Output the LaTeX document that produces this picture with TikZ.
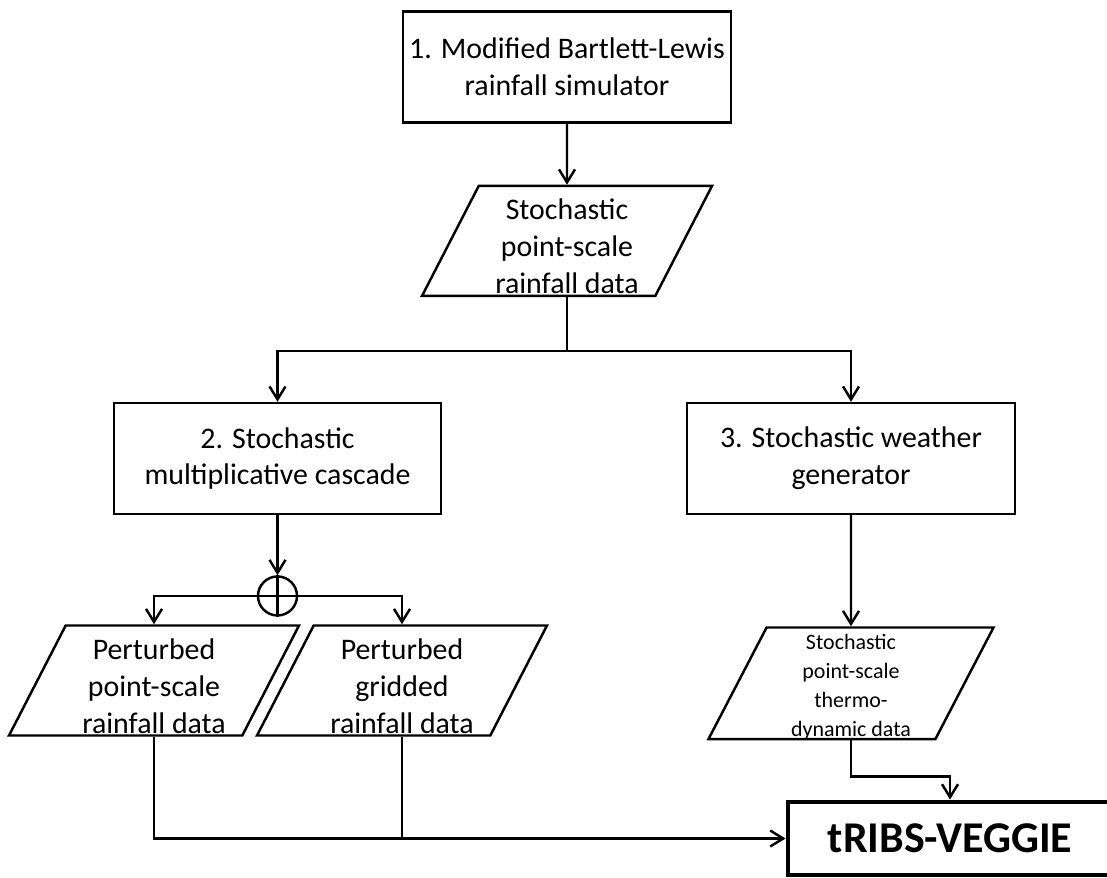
\documentclass[tikz,border=0pt]{standalone}
\usepackage{fontspec}
\setmainfont{Carlito}
\usetikzlibrary{positioning,arrows.meta,shapes.geometric}

\begin{document}
\begin{tikzpicture}[
  blk/.style={draw, line width=1.4pt, align=center, font=\fontsize{17}{21}\selectfont,
              minimum width=6.55cm, minimum height=2.22cm, inner sep=2pt},
  dat/.style={draw, line width=1.4pt, trapezium, trapezium left angle=62.5,
              trapezium right angle=117.5, trapezium stretches body, align=center,
              font=\fontsize{17}{21}\selectfont, minimum width=5.8cm,
              minimum height=2.2cm, inner sep=1pt, text height=60pt, text depth=0pt},
  arr/.style={-{Straight Barb[length=2.6mm, width=3.2mm]}, line width=1.4pt},
  ln/.style={line width=1.4pt}
]
\useasboundingbox (0,0) rectangle (22.14,-17.56);
\node[blk] (sim) at (11.34,-1.34) {1. Modified Bartlett-Lewis\\rainfall simulator};
\node[dat, below=1.22cm of sim] (rain) {Stochastic\\point-scale\\rainfall data};
\coordinate[below=1.08cm of rain.south] (split);
\node[blk] (casc) at (5.55,-9.17) {2. Stochastic\\multiplicative cascade};
\node[blk] (wg) at (17.02,-9.17) {3. Stochastic weather\\generator};
\node[draw, ln, circle, minimum size=0.78cm, inner sep=0pt, below=1.2cm of casc] (plus) {};
\node[dat] (ptrain) at (3.08,-13.61) {Perturbed\\point-scale\\rainfall data};
\node[dat] (grid) at (8.04,-13.61) {Perturbed\\gridded\\rainfall data};
\node[dat, font=\fontsize{12.5}{16.5}\selectfont, minimum width=5.7cm, minimum height=2.18cm,
      text height=61pt, text depth=0.5pt, below=2.22cm of wg] (thermo)
      {Stochastic\\point-scale\\thermo-\\dynamic data};
\node[draw, line width=2.8pt, font=\bfseries\fontsize{25}{30}\selectfont,
      minimum width=6.48cm, minimum height=1.46cm] (tribs) at (19.0,-16.77) {tRIBS-VEGGIE};

% rainfall branch
\draw[arr] (sim) -- (rain);
\draw[ln] (rain.south) -- (split);
\draw[arr] (split) -| (casc.north);
\draw[arr] (split) -| (wg.north);
\draw[arr] (casc) -- (plus);
\draw[ln] (plus.north) -- (plus.south) (plus.west) -- (plus.east);
\draw[arr] (plus.west) -| (ptrain.north);
\draw[arr] (plus.east) -| (grid.north);
% into the model
\draw[arr] (ptrain.south) |- (tribs.west);
\draw[ln] (grid.south) -- (grid.south |- tribs.west);
\draw[arr] (wg) -- (thermo);
\draw[arr] (thermo.south) -- ++(0,-0.72) -| (tribs.north);
\end{tikzpicture}
\end{document}
